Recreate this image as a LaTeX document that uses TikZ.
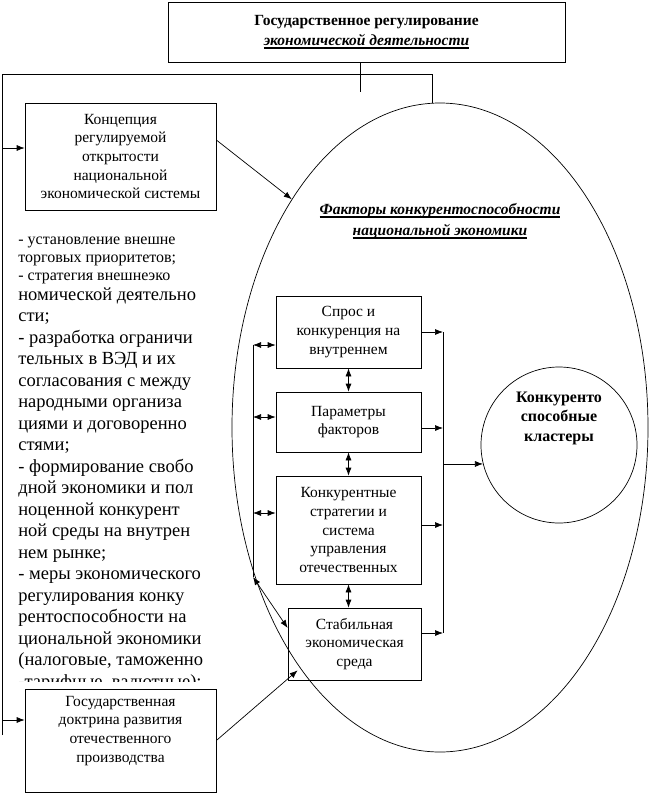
\documentclass[tikz,border=0pt]{standalone}
\usepackage{fontspec}
\setmainfont{Liberation Serif}
\usetikzlibrary{arrows.meta,shapes.geometric,positioning}

\newcommand\ulbar[1]{\begingroup\setbox0=\hbox{#1}\rlap{\rule[-3.5pt]{\wd0}{1.6pt}}\box0\endgroup}
\newcommand\boxfont{\fontsize{15.5}{18.7}\selectfont}

\tikzset{
  blk/.style={draw, rectangle, align=center, inner sep=0pt, font=\boxfont},
  arr/.style={-{Latex[length=8pt,width=6pt]}},
  darr/.style={{Latex[length=8pt,width=6pt]}-{Latex[length=8pt,width=6pt]}},
}

\begin{document}
\begin{tikzpicture}[x=1pt,y=-1pt,line width=0.7pt]
\useasboundingbox (0,0) rectangle (652,796);

% top block
\node[blk, minimum width=397, minimum height=60, font=\fontsize{15.5}{20}\selectfont] (gov) at (366.5,32)
  {\textbf{Государственное регулирование}\\ \ulbar{\textbf{\textit{экономической деятельности}}}};

% left blocks
\node[blk, minimum width=191, minimum height=107] (conc) at (120.5,156.5)
  {Концепция\\ регулируемой\\ открытости\\ национальной\\ экономической системы};
\node[blk, minimum width=191, minimum height=103] (doct) at (120.5,740.5) {};
\node[align=center, inner sep=0pt, font=\boxfont, anchor=north] (doctt) at ([yshift=-7pt]doct.north)
  {Государственная\\ доктрина развития\\ отечественного\\ производства};

% list of measures
\begin{scope}
  \clip (0,0) rectangle (240,681);
  \node[anchor=north west, inner sep=0pt, align=left, font=\fontsize{16}{18}\selectfont] (lst1) at (18,237)
    {- установление внешне\\ торговых приоритетов;\\ - стратегия внешнеэко};
  \node[anchor=north west, inner sep=0pt, align=left, font=\fontsize{18.5}{21.5}\selectfont] (lst2) at (18,287)
    {номической деятельно\\ сти;\\ - разработка ограничи\\ тельных в ВЭД и их\\
     согласования с между\\ народными организа\\ циями и договоренно\\ стями;\\
     - формирование свобо\\ дной экономики и пол\\ ноценной конкурент\\
     ной среды на внутрен\\ нем рынке;\\ - меры экономического\\
     регулирования конку\\ рентоспособности на\\ циональной экономики\\
     (налоговые, таможенно\\ -тарифные, валютные);};
\end{scope}

% factors
\node[draw, ellipse, minimum width=416, minimum height=649, inner sep=0pt] (fact) at (440,427.5) {};
\node[align=center, inner sep=0pt, font=\fontsize{15.5}{21}\selectfont] (ftitle) at (440,221)
  {\ulbar{\textbf{\textit{Факторы конкурентоспособности}}}\\ \ulbar{\textbf{\textit{национальной экономики}}}};

\node[blk, minimum width=145, minimum height=72] (dem) at (348.5,332)
  {Спрос и\\ конкуренция на\\ внутреннем};
\node[blk, minimum width=145, minimum height=60] (param) at (348.5,422)
  {Параметры\\ факторов};
\node[blk, minimum width=145, minimum height=108] (strat) at (348.5,530)
  {Конкурентные\\ стратегии и\\ система\\ управления\\ отечественных};
\node[blk, minimum width=133, minimum height=72] (stab) at (354.5,644)
  {Стабильная\\ экономическая\\ среда};

\node[draw, circle, minimum size=156, inner sep=0pt] (clust) at (559,445) {};
\node[align=center, inner sep=0pt, font=\fontsize{16}{19.5}\selectfont\bfseries] (ctext) at ([yshift=27pt]clust.center)
  {Конкуренто\\ способные\\ кластеры};

% connections from the top block
\coordinate (gtail) at (360,92);
\coordinate (ltop) at (2,74);
\coordinate (lbot) at (2,735);
\coordinate (etop) at (432,103);
\draw (gov.south -| gtail) -- (gtail);
\draw (lbot) -- (ltop) -| (etop);
\draw[arr] ([yshift=8.5pt]conc.west -| ltop) -- ([yshift=8.5pt]conc.west);
\draw[arr] ([yshift=20.5pt]doct.west -| ltop) -- ([yshift=20.5pt]doct.west);
\draw[arr] ([yshift=16.5pt]conc.east) -- (fact.123);
\draw[arr] (doct.east) -- ([xshift=10pt,yshift=10pt]stab.south west);

% inner left bus
\coordinate (ibt) at (253,345);
\coordinate (ibb) at (253,577);
\draw (ibt) -- (ibb);
\draw[darr] (ibt) -- (ibt -| dem.west);
\draw[darr] ([yshift=5pt]param.west -| ibt) -- ([yshift=5pt]param.west);
\draw[darr] ([yshift=17pt]strat.west -| ibt) -- ([yshift=17pt]strat.west);
\draw[darr] (ibb) -- ([yshift=16pt]stab.west);

% between the blocks
\draw[darr] (dem.south) -- (param.north);
\draw[darr] (param.south) -- (strat.north);
\draw[darr] (strat.south) -- (strat.south |- stab.north);

% right bus
\coordinate (rbt) at (443,332);
\coordinate (rbb) at (443,633);
\draw (rbt) -- (rbb);
\draw[arr] (dem.east) -- (dem.east -| rbt);
\draw[arr] ([yshift=-6pt]param.east) -- ([yshift=-6pt]param.east -| rbt);
\draw[arr] ([yshift=5pt]strat.east) -- ([yshift=5pt]strat.east -| rbt);
\draw[arr] ([yshift=11pt]stab.east) -- ([yshift=11pt]stab.east -| rbt);
\draw[arr] (clust.194 -| rbt) -- (clust.194);
\end{tikzpicture}
\end{document}
